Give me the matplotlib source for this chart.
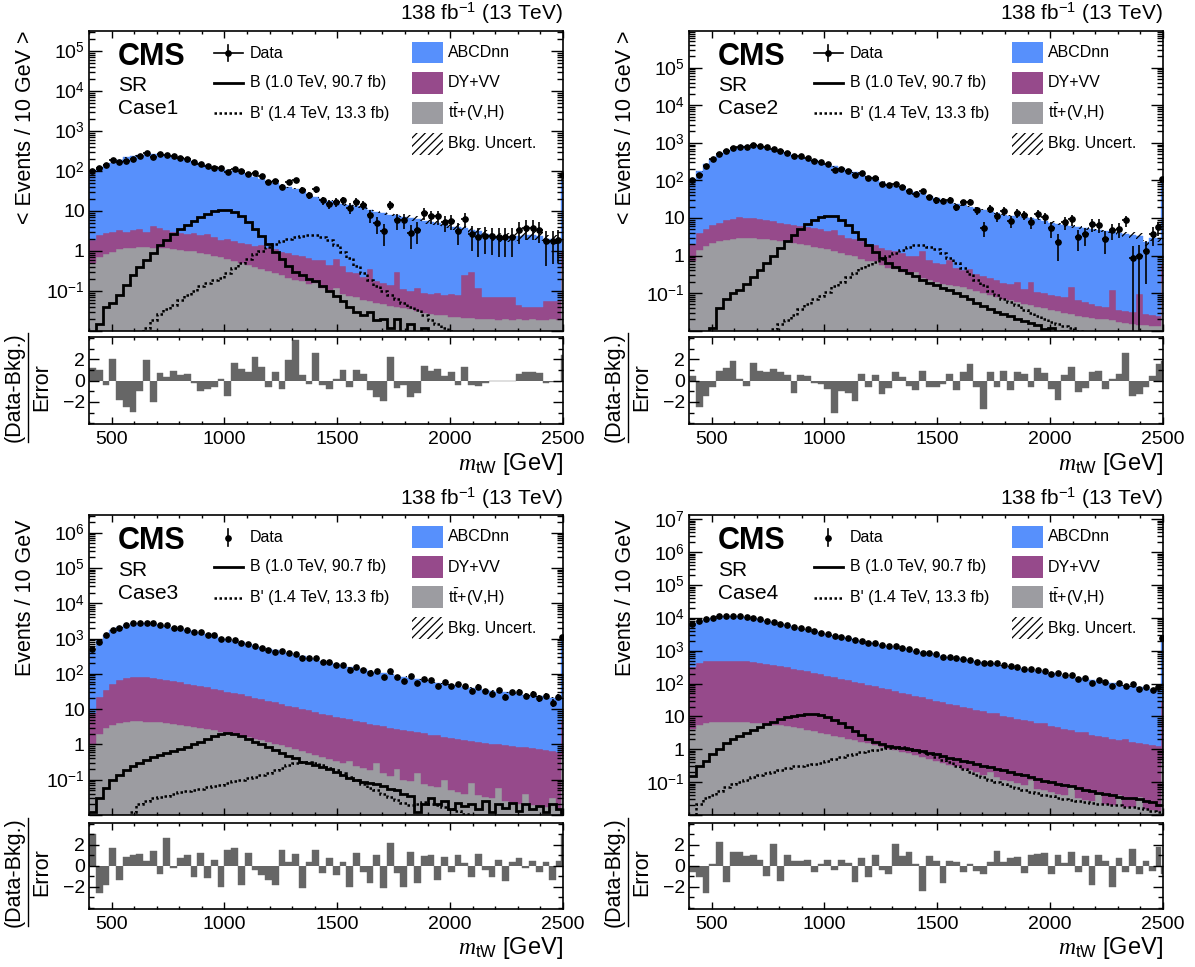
import numpy as np
import matplotlib
matplotlib.use('Agg')
import matplotlib.pyplot as plt
from matplotlib.ticker import MultipleLocator, LogLocator, FuncFormatter, NullFormatter, FixedLocator
from matplotlib.patches import Rectangle
from matplotlib.lines import Line2D

plt.rcParams['font.family'] = ['Liberation Sans', 'DejaVu Sans']
plt.rcParams['mathtext.fontset'] = 'custom'
plt.rcParams['mathtext.rm'] = 'Liberation Sans'
plt.rcParams['mathtext.it'] = 'Liberation Serif:italic'
plt.rcParams['mathtext.bf'] = 'Liberation Sans:bold'
plt.rcParams['hatch.linewidth'] = 0.9

# ---------------- data ----------------
bin_edges = list(range(400, 2471, 30)) + [2490, 2500]

case1_abcdnn = [83, 107, 137, 157, 187, 212, 232, 241, 247, 251,
                246, 237, 217, 197, 182, 167, 153, 137, 123, 113,
                103, 95, 86, 76.5, 69, 61.5, 54, 48, 43, 38,
                34.2, 30.2, 25.3, 21.4, 19.4, 17.5, 15.1, 14.1, 13.7, 12.7,
                11.8, 10.25, 9.3, 8.45, 7.85, 7.4, 6.9, 6.5, 6.2, 5.5,
                5.1, 4.7, 4.3, 3.9, 3.9, 3.35, 3.0, 2.9, 2.6, 2.2,
                2.1, 2.1, 2.1, 2.35, 2.45, 2.45, 2.25, 1.95, 1.95, 1.95, 59]
case1_dyvv = [1.3, 1.8, 1.95, 2.05, 2.2, 1.75, 2.0, 2.25, 1.75, 3.0,
              2.4, 2.05, 1.8, 1.75, 1.6, 1.73, 1.5, 1.75, 1.45, 1.2,
              1.38, 1.14, 1.1, 1.06, 0.9, 1.05, 0.84, 0.83, 0.71, 0.69,
              0.61, 0.58, 0.5, 0.42, 0.48, 0.345, 0.5, 0.335, 0.225, 0.212,
              0.16, 0.3, 0.12, 0.114, 0.098, 0.25, 0.074, 0.066, 0.089, 0.062,
              0.059, 0.065, 0.056, 0.063, 0.058, 0.23, 0.28, 0.1, 0.05, 0.05,
              0.051, 0.05, 0.052, 0.025, 0.021, 0.02, 0.022, 0.036, 0.035, 0.036, 0.6]
case1_ttvh = [0.5, 0.7, 0.85, 0.95, 1.1, 1.15, 1.2, 1.25, 1.25, 1.2,
              1.2, 1.15, 1.1, 1.05, 1.0, 0.97, 0.9, 0.85, 0.75, 0.7,
              0.62, 0.56, 0.5, 0.44, 0.4, 0.35, 0.31, 0.27, 0.24, 0.21,
              0.19, 0.17, 0.15, 0.16, 0.12, 0.105, 0.12, 0.085, 0.075, 0.068,
              0.06, 0.055, 0.05, 0.046, 0.042, 0.04, 0.036, 0.034, 0.031, 0.028,
              0.026, 0.025, 0.024, 0.022, 0.022, 0.021, 0.021, 0.02, 0.02, 0.02,
              0.019, 0.02, 0.018, 0.02, 0.019, 0.02, 0.018, 0.019, 0.02, 0.019, 0.4]
case1_sig_b = [0.004, 0.015, 0.04, 0.05, 0.08, 0.14, 0.25, 0.4, 0.6, 0.9,
               1.4, 1.9, 2.6, 3.4, 4.3, 5.5, 7.0, 8.5, 9.8, 10.6,
               10.5, 9.3, 7.5, 5.3, 3.5, 2.3, 1.45, 0.95, 0.62, 0.42,
               0.3, 0.24, 0.2, 0.17, 0.13, 0.1, 0.075, 0.055, 0.04, 0.03,
               0.025, 0.03, 0.018, 0.02, 0.012, 0.02, 0.008, 0.015, 0.006, 0.012,
               0.005, 0.005, 0.005, 0.005, 0.005, 0.005, 0.005, 0.005, 0.005, 0.005,
               0.005, 0.005, 0.005, 0.005, 0.005, 0.005, 0.005, 0.005, 0.005, 0.005, 0.005]
case1_sig_bp = [0.005, 0.005, 0.005, 0.005, 0.005, 0.005, 0.005, 0.008, 0.012, 0.018,
                0.026, 0.034, 0.045, 0.06, 0.08, 0.1, 0.13, 0.16, 0.18, 0.21,
                0.28, 0.37, 0.48, 0.62, 0.82, 1.0, 1.25, 1.5, 1.75, 1.95,
                2.15, 2.3, 2.4, 2.4, 2.2, 1.85, 1.35, 0.95, 0.65, 0.42,
                0.28, 0.19, 0.13, 0.1, 0.08, 0.062, 0.05, 0.04, 0.032, 0.025,
                0.019, 0.015, 0.012, 0.01, 0.008, 0.005, 0.005, 0.005, 0.005, 0.005,
                0.005, 0.005, 0.005, 0.005, 0.005, 0.005, 0.005, 0.005, 0.005, 0.005, 0.005]
case1_pull = [1.2, 1.0, -0.4, 2.0, -1.8, -2.5, -2.9, -1.0, 1.9, -2.0,
              0.7, 0.3, 0.9, 0.5, 0.6, -0.2, -1.0, -0.8, -0.6, 0.2,
              -1.4, 1.7, 1.1, 0.8, 2.2, 1.3, -0.6, 0.8, -0.8, 1.9,
              3.8, 0.5, -0.3, 2.6, -0.4, -0.8, 0.2, 1.0, -0.6, 1.0,
              0.6, -0.9, -1.5, -1.9, 2.2, -0.7, -0.4, -1.5, -1.2, 1.4,
              0.9, 1.1, 0.4, 0.8, -0.4, 1.3, -0.4, -0.5, -0.2, 0.0,
              0.0, 0.0, 0.0, 0.6, 0.8, 0.8, 0.7, -0.2, -0.15, -0.1, 2.4]
case1_unc_edges = [400, 1500, 1800, 2100, 2500]
case1_unc_frac = [0.03, 0.08, 0.15, 0.25]

case2_abcdnn = [98, 171, 265, 373, 472, 581, 680, 750, 790, 800,
                781, 721, 652, 583, 523, 463, 419, 374, 335, 300,
                275, 235, 211, 187, 162, 143, 123, 106, 91.4, 80.6,
                71.7, 62.9, 56, 49.1, 43.7, 38.3, 32.4, 29.4, 26.3, 23.5,
                21.6, 19.5, 18.2, 16.2, 14.2, 13.0, 12.0, 11.3, 10.8, 10.2,
                9.7, 9.0, 8.2, 7.4, 6.9, 6.3, 5.9, 5.6, 5.2, 4.9,
                4.65, 4.35, 4.15, 3.95, 3.65, 3.45, 3.25, 2.2, 2.95, 2.85, 94]
case2_dyvv = [1.3, 2.6, 3.2, 4.4, 5.1, 6.4, 6.7, 7.6, 6.9, 7.1,
              6.5, 6.1, 5.6, 4.85, 4.7, 4.45, 4.0, 3.75, 3.7, 3.45,
              3.15, 3.6, 2.4, 1.95, 1.75, 1.58, 1.28, 1.18, 1.05, 0.92,
              0.87, 0.78, 0.67, 0.6, 1.04, 0.52, 0.45, 0.42, 0.6, 0.315,
              0.275, 0.32, 0.215, 0.18, 0.17, 0.14, 0.12, 0.106, 0.142, 0.078,
              0.15, 0.066, 0.06, 0.054, 0.052, 0.048, 0.12, 0.04, 0.035, 0.03,
              0.025, 0.024, 0.1, 0.019, 0.018, 0.016, 0.08, 0.013, 0.013, 0.012, 0.4]
case2_ttvh = [0.7, 1.4, 1.8, 2.1, 2.4, 2.6, 2.8, 2.9, 2.9, 2.9,
              2.8, 2.7, 2.6, 2.45, 2.3, 2.15, 2.0, 1.85, 1.7, 1.55,
              1.45, 1.3, 1.2, 1.05, 0.95, 0.82, 0.72, 0.7, 0.55, 0.48,
              0.43, 0.37, 0.33, 0.36, 0.26, 0.23, 0.2, 0.18, 0.165, 0.155,
              0.145, 0.13, 0.115, 0.1, 0.09, 0.08, 0.07, 0.064, 0.058, 0.052,
              0.048, 0.044, 0.04, 0.036, 0.033, 0.03, 0.027, 0.025, 0.023, 0.022,
              0.021, 0.02, 0.019, 0.017, 0.016, 0.015, 0.014, 0.014, 0.013, 0.013, 0.2]
case2_sig_b = [0.005, 0.005, 0.005, 0.012, 0.04, 0.07, 0.1, 0.12, 0.18, 0.27,
               0.4, 0.65, 1.0, 1.6, 2.4, 3.6, 5.0, 6.8, 8.7, 10.3,
               11.3, 11.2, 9.0, 6.3, 4.3, 2.8, 1.9, 1.25, 0.88, 0.65,
               0.5, 0.41, 0.35, 0.28, 0.22, 0.19, 0.16, 0.14, 0.12, 0.1,
               0.085, 0.068, 0.055, 0.045, 0.038, 0.032, 0.028, 0.024, 0.02, 0.018,
               0.016, 0.014, 0.011, 0.012, 0.008, 0.01, 0.005, 0.005, 0.005, 0.005,
               0.005, 0.005, 0.005, 0.005, 0.005, 0.005, 0.005, 0.005, 0.005, 0.005, 0.005]
case2_sig_bp = [0.005, 0.005, 0.005, 0.005, 0.005, 0.005, 0.005, 0.005, 0.005, 0.005,
                0.006, 0.008, 0.011, 0.015, 0.019, 0.026, 0.037, 0.05, 0.068, 0.085,
                0.11, 0.15, 0.2, 0.27, 0.35, 0.46, 0.55, 0.68, 0.8, 0.98,
                1.15, 1.4, 1.7, 1.88, 1.85, 1.7, 1.45, 1.15, 0.88, 0.62,
                0.46, 0.32, 0.22, 0.16, 0.115, 0.09, 0.07, 0.058, 0.047, 0.036,
                0.03, 0.025, 0.021, 0.017, 0.015, 0.013, 0.012, 0.01, 0.008, 0.007,
                0.005, 0.005, 0.005, 0.005, 0.005, 0.005, 0.005, 0.005, 0.005, 0.005, 0.005]
case2_pull = [0.4, -2.5, -1.4, -0.6, 0.9, 1.2, 1.8, 0.2, -0.5, 1.7,
              0.9, 0.8, 1.1, 0.8, 0.5, -1.2, 0.5, 0.4, -0.2, -0.3,
              -0.8, -3.0, -1.0, -1.2, -1.9, 0.6, -0.6, 0.5, -1.3, -0.7,
              0.8, 0.3, -0.5, -0.9, 0.9, -0.6, -0.6, -0.3, 0.6, -0.9,
              0.8, 1.6, -0.6, -2.7, 0.8, -0.6, 0.9, -0.9, 0.8, 0.6,
              -0.6, 1.2, 0.7, -0.8, -1.8, 0.5, 1.3, -1.1, -0.7, 0.8,
              0.9, -0.8, 0.2, 0.6, 2.6, -1.4, -1.3, -0.6, 0.4, 1.6, 1.8]
case2_unc_edges = [400, 2000, 2300, 2500]
case2_unc_frac = [0.03, 0.08, 0.18]

case3_abcdnn = [442, 858, 1265, 1648, 2034, 2374, 2620, 2668, 2670, 2573,
                2377, 2182, 1988, 1843, 1698, 1552, 1406, 1289, 1162, 1016,
                919, 832, 754, 666, 609, 551, 493, 444, 406, 367,
                334, 300, 271, 247, 222, 198, 182, 164, 150, 140,
                131, 118, 108, 102, 93, 85, 79, 73.6, 67.8, 63,
                58.1, 54.2, 50.3, 47.4, 44.5, 41.6, 38.7, 35.8, 33.9, 31.9,
                30, 29, 27.1, 26.1, 24.2, 23.2, 22.3, 21.3, 20.3, 19.4, 995]
case3_dyvv = [7, 20, 32, 48, 62, 72, 75.5, 77.5, 75.5, 72.7,
              68.8, 64, 58.2, 53.4, 48.6, 44.8, 41, 38.2, 35.4, 31.7,
              28.9, 26.1, 24.25, 21.9, 19.55, 17.7, 15.85, 14.45, 13.05, 11.7,
              10.5, 9.56, 8.64, 7.7, 7.06, 6.42, 5.77, 5.3, 4.75, 4.46,
              4.08, 3.71, 3.3, 3.15, 2.87, 2.6, 2.5, 2.31, 2.05, 1.975,
              1.83, 1.74, 1.55, 1.5, 1.4, 1.31, 1.2, 1.16, 1.09, 1.02,
              0.94, 0.925, 0.88, 0.84, 0.78, 0.76, 0.72, 0.68, 0.63, 0.61, 4.5]
case3_ttvh = [1.0, 2.0, 2.9, 3.6, 4.1, 4.4, 4.5, 4.5, 4.4, 4.3,
              4.2, 4.0, 3.8, 3.6, 3.4, 3.2, 3.0, 2.8, 2.6, 2.3,
              2.1, 1.9, 1.75, 1.6, 1.45, 1.3, 1.15, 1.05, 0.95, 0.82,
              0.72, 0.64, 0.56, 0.5, 0.44, 0.38, 0.33, 0.3, 0.35, 0.24,
              0.22, 0.19, 0.3, 0.15, 0.13, 0.2, 0.1, 0.09, 0.15, 0.075,
              0.068, 0.062, 0.1, 0.052, 0.046, 0.04, 0.08, 0.036, 0.032, 0.03,
              0.06, 0.025, 0.022, 0.021, 0.04, 0.019, 0.018, 0.017, 0.03, 0.016, 0.5]
case3_sig_b = [0.012, 0.03, 0.06, 0.1, 0.14, 0.19, 0.25, 0.3, 0.37, 0.43,
               0.5, 0.57, 0.65, 0.73, 0.85, 1.0, 1.2, 1.45, 1.7, 1.95,
               2.05, 1.95, 1.75, 1.45, 1.2, 1.0, 0.85, 0.7, 0.56, 0.46,
               0.4, 0.32, 0.29, 0.26, 0.23, 0.2, 0.17, 0.14, 0.115, 0.1,
               0.085, 0.08, 0.075, 0.065, 0.055, 0.05, 0.04, 0.034, 0.012, 0.02,
               0.03, 0.02, 0.025, 0.015, 0.022, 0.018, 0.02, 0.015, 0.025, 0.012,
               0.02, 0.016, 0.022, 0.013, 0.02, 0.015, 0.018, 0.012, 0.02, 0.015, 0.01]
case3_sig_bp = [0.005, 0.005, 0.005, 0.005, 0.005, 0.009, 0.012, 0.02, 0.025, 0.03,
                0.032, 0.035, 0.04, 0.045, 0.048, 0.052, 0.056, 0.062, 0.068, 0.072,
                0.08, 0.09, 0.1, 0.11, 0.12, 0.14, 0.16, 0.19, 0.22, 0.26,
                0.29, 0.31, 0.32, 0.3, 0.26, 0.22, 0.19, 0.15, 0.12, 0.095,
                0.075, 0.06, 0.05, 0.04, 0.033, 0.026, 0.022, 0.019, 0.02, 0.023,
                0.02, 0.019, 0.017, 0.015, 0.013, 0.011, 0.008, 0.006, 0.005, 0.005,
                0.005, 0.005, 0.005, 0.005, 0.005, 0.005, 0.005, 0.005, 0.005, 0.005, 0.005]
case3_pull = [3.0, -2.6, -1.8, 1.7, -1.3, 0.8, 1.0, 1.1, 0.5, 1.4,
              -0.8, 2.6, -0.2, 0.7, 1.0, -1.1, 1.2, -1.2, 0.6, -2.0,
              1.5, 1.7, -1.8, 1.2, -0.4, -0.9, -1.3, -1.8, 1.5, 0.4,
              1.1, -2.1, 0.4, 1.5, -0.7, 0.7, -0.9, 0.4, -2.0, 1.2,
              -0.6, -1.6, 1.0, -2.1, 2.2, -0.7, -2.0, 1.3, -1.6, 0.9,
              1.0, -1.3, 0.8, -0.6, 1.0, 0.3, -1.1, 1.1, -0.4, -1.1,
              0.6, -1.4, 0.4, 0.7, -0.2, 0.5, -0.6, 0.4, -1.3, 0.5, 3.0]
case3_unc_edges = [400, 2500]
case3_unc_frac = [0.03]

case4_abcdnn = [6170, 7580, 8730, 9710, 10500, 11000, 11000, 10710, 10225, 9345,
                8570, 7800, 7030, 6360, 5690, 5115, 4640, 4165, 3738, 3358,
                3026, 2743, 2509, 2273, 2085, 1897, 1728, 1568, 1426, 1314,
                1221, 1127, 1033, 947, 872, 796, 730, 673, 626, 578,
                535, 497, 459, 430, 402, 373, 344, 320, 296, 272,
                253, 234, 216, 200, 185, 171, 156, 145, 134, 124,
                115.5, 107.7, 99.9, 92, 85.2, 80.3, 75.4, 70.5, 66.6, 62.7, 2470]
case4_dyvv = [326, 414, 464, 483, 493, 493, 493, 483, 468, 448,
              424, 394, 364, 335, 305, 280, 256, 231, 208, 189,
              171, 154, 139, 125, 113, 101, 90.5, 80.6, 72.8, 65,
              58, 52.2, 46.3, 42.4, 37.4, 33.5, 29.6, 26.6, 23.7, 21.7,
              19.7, 17.8, 15.8, 14.3, 12.8, 12.5, 10.4, 9.4, 8.5, 7.7,
              6.9, 6.24, 6.2, 5.15, 4.66, 4.16, 3.76, 3.37, 3.4, 2.77,
              2.48, 2.28, 2.08, 1.93, 2.0, 1.63, 1.53, 1.43, 1.34, 1.29, 29.5]
case4_ttvh = [4.2, 5.5, 6.3, 6.7, 7.0, 7.0, 7.0, 6.9, 6.7, 6.5,
              6.2, 5.9, 5.6, 5.3, 5.0, 4.7, 4.3, 4.0, 3.6, 3.2,
              2.9, 2.6, 2.35, 2.1, 1.9, 1.7, 1.5, 1.35, 1.2, 1.05,
              0.95, 0.85, 0.75, 0.65, 0.57, 0.5, 0.44, 0.39, 0.34, 0.3,
              0.26, 0.23, 0.2, 0.17, 0.2, 0.14, 0.12, 0.11, 0.095, 0.08,
              0.12, 0.064, 0.056, 0.05, 0.045, 0.04, 0.07, 0.032, 0.028, 0.026,
              0.05, 0.022, 0.02, 0.04, 0.018, 0.017, 0.035, 0.015, 0.014, 0.013, 0.5]
case4_sig_b = [0.15, 0.3, 0.45, 0.7, 1.0, 1.5, 2.0, 2.6, 3.2, 4.0,
               4.9, 5.9, 7.0, 8.2, 9.3, 10.3, 11.0, 11.5, 11.6, 11.0,
               9.6, 8.0, 6.3, 4.7, 3.5, 2.7, 2.1, 1.7, 1.45, 1.28,
               1.18, 1.08, 1.0, 0.93, 0.86, 0.78, 0.7, 0.62, 0.55, 0.49,
               0.44, 0.4, 0.36, 0.32, 0.28, 0.26, 0.23, 0.21, 0.18, 0.16,
               0.14, 0.125, 0.11, 0.1, 0.09, 0.08, 0.074, 0.065, 0.058, 0.052,
               0.048, 0.044, 0.04, 0.036, 0.034, 0.032, 0.03, 0.027, 0.025, 0.02, 0.02]
case4_sig_bp = [0.008, 0.022, 0.032, 0.042, 0.055, 0.07, 0.085, 0.1, 0.12, 0.14,
                0.16, 0.185, 0.21, 0.24, 0.27, 0.3, 0.32, 0.34, 0.36, 0.38,
                0.44, 0.52, 0.58, 0.65, 0.73, 0.8, 0.88, 0.96, 1.02, 1.08,
                1.12, 1.17, 1.12, 0.98, 0.85, 0.72, 0.6, 0.48, 0.4, 0.32,
                0.26, 0.21, 0.17, 0.14, 0.12, 0.1, 0.088, 0.078, 0.066, 0.057,
                0.05, 0.046, 0.042, 0.038, 0.034, 0.03, 0.028, 0.026, 0.025, 0.024,
                0.022, 0.021, 0.02, 0.02, 0.018, 0.017, 0.016, 0.015, 0.013, 0.012, 0.011]
case4_pull = [-0.6, -1.1, -2.6, 0.2, 2.3, -1.5, 1.3, 1.3, 0.9, 1.0,
              0.6, -1.0, 2.1, -1.4, 1.0, 0.5, 0.5, 0.6, -0.6, 0.2,
              0.6, -0.4, 0.6, 0.3, -1.5, 0.7, -1.1, 1.0, -0.4, -0.8,
              2.1, 0.9, 1.3, 0.2, -2.4, 0.9, 0.5, -1.6, 0.5, 0.4,
              -0.6, 0.2, -0.5, -0.8, 0.4, 1.4, 0.4, 0.7, 0.8, -0.7,
              1.0, 1.1, 1.2, -0.8, 1.0, 0.3, 1.3, -0.6, 0.9, -1.8,
              1.0, 0.5, -2.0, 0.7, -0.6, 1.6, -0.8, 0.5, -0.5, 1.8, -0.8]
case4_unc_edges = [400, 2500]
case4_unc_frac = [0.02]

case_names = ['Case1', 'Case2', 'Case3', 'Case4']
y_maxima = [3.16e5, 9.6e5, 3.16e6, 1.35e7]
y_titles = ['< Events / 10 GeV >', '< Events / 10 GeV >', 'Events / 10 GeV', 'Events / 10 GeV']
legend_labels = ['Data', 'B (1.0 TeV, 90.7 fb)', "B' (1.4 TeV, 13.3 fb)",
                 'ABCDnn', 'DY+VV', r'$\mathrm{t\bar{t}}$+(V,H)', 'Bkg. Uncert.']
title_text = r'138 fb$^{\mathrm{-1}}$ (13 TeV)'
x_title = r'$m_{\mathrm{tW}}$ [GeV]'

# ---------------- style ----------------
BLUE = '#5790fc'
PURPLE = '#964a8b'
GRAY = '#9c9ca1'
PULLC = '#666666'
W, H = 1195.0, 967.0
COL_LEFT = [89.0, 689.0]
AX_W = 474.0
ROW_GEOM = [((330.7, 300.0), (424.3, 87.3)), ((815.0, 300.0), (909.0, 86.3))]

fig = plt.figure(figsize=(W / 100, H / 100), dpi=100)


def log_label(v, pos):
    if v < 0.05:
        return ''
    e = int(round(np.log10(v)))
    if e == 0:
        return '1'
    if e == 1:
        return '10'
    return r'$10^{%d}$' % e


def panel(idx, abcdnn, dyvv, ttvh, sig_b, sig_bp, pull, unc_edges, unc_frac):
    col = idx % 2
    row = idx // 2
    (mb, mh), (rb, rh) = ROW_GEOM[row]
    left = COL_LEFT[col] / W
    ax = fig.add_axes([left, 1 - mb / H, AX_W / W, mh / H])
    rx = fig.add_axes([left, 1 - rb / H, AX_W / W, rh / H])

    edges = np.asarray(bin_edges, dtype=float)
    centers = 0.5 * (edges[:-1] + edges[1:])
    halfw = 0.5 * np.diff(edges)
    tt = np.asarray(ttvh, dtype=float)
    dy = np.asarray(dyvv, dtype=float)
    ab = np.asarray(abcdnn, dtype=float)
    s1 = tt
    s2 = tt + dy
    s3 = s2 + ab

    ax.set_yscale('log')
    ax.stairs(s1, edges, baseline=1e-5, fill=True, facecolor=GRAY, edgecolor=GRAY, linewidth=0.3)
    ax.stairs(s2, edges, baseline=s1, fill=True, facecolor=PURPLE, edgecolor=PURPLE, linewidth=0.3)
    ax.stairs(s3, edges, baseline=s2, fill=True, facecolor=BLUE, edgecolor=BLUE, linewidth=0.3)

    uf = np.asarray(unc_frac)[np.searchsorted(unc_edges, centers, side='right') - 1]
    ax.stairs(s3 * (1 + uf), edges, baseline=s3 * (1 - uf), fill=True,
              facecolor='none', edgecolor='k', hatch='////', linewidth=0)

    ax.stairs(np.asarray(sig_b), edges, baseline=None, color='k', linewidth=2.0)
    ax.stairs(np.asarray(sig_bp), edges, baseline=None, color='k', linewidth=1.8,
              linestyle=(0, (1.0, 1.0)))

    p = np.asarray(pull, dtype=float)
    data = s3 + p * np.sqrt(s3)
    data = np.maximum(data, 0.15 * s3)
    err = np.sqrt(data)
    lo = np.minimum(err, data - 1e-4)
    hbar = idx < 2
    ax.errorbar(centers, data, yerr=[lo, err], xerr=(halfw if hbar else None),
                fmt='o', color='k', ms=3.8, elinewidth=1.2, capsize=0, zorder=5)

    ax.set_xlim(400, 2500)
    ax.set_ylim(0.01, y_maxima[idx])
    rx.set_xlim(400, 2500)
    rx.set_ylim(-4.1, 4.1)

    rx.stairs(p, edges, baseline=0, fill=True, facecolor=PULLC, edgecolor=PULLC, linewidth=0.3)

    for a in (ax, rx):
        a.tick_params(which='both', direction='in', top=True, right=True, width=1.0)
        a.xaxis.set_major_locator(MultipleLocator(500))
        a.xaxis.set_minor_locator(MultipleLocator(100))
        for s in a.spines.values():
            s.set_linewidth(1.2)
    ax.tick_params(axis='x', which='major', length=5)
    ax.tick_params(axis='x', which='minor', length=2.5)
    ax.tick_params(axis='y', which='major', length=9, labelsize=14, pad=3)
    ax.tick_params(axis='y', which='minor', length=4.5)
    ax.tick_params(labelbottom=False)
    ax.yaxis.set_major_locator(LogLocator(base=10, numticks=30))
    ax.yaxis.set_minor_locator(LogLocator(base=10, subs=np.arange(2, 10), numticks=30))
    ax.yaxis.set_major_formatter(FuncFormatter(log_label))
    ax.yaxis.set_minor_formatter(NullFormatter())

    rx.tick_params(axis='x', which='major', length=5, labelsize=14, pad=5)
    rx.tick_params(axis='x', which='minor', length=2.5)
    rx.tick_params(axis='y', which='major', length=7, labelsize=14, pad=3)
    rx.tick_params(axis='y', which='minor', length=3.5)
    rx.yaxis.set_major_locator(FixedLocator([-2, 0, 2]))
    rx.yaxis.set_minor_locator(MultipleLocator(1))
    rx.set_yticklabels(['\u22122', '0', '2'])

    # texts
    ax.text(1.0, 1.014, title_text, transform=ax.transAxes, ha='right', va='bottom', fontsize=15)
    ytop = 1.0 if row == 0 else 0.985
    ax.text(-0.133, ytop, y_titles[idx], transform=ax.transAxes, rotation=90,
            ha='center', va='top', fontsize=15.5)
    ax.text(0.061, 0.913, 'CMS', transform=ax.transAxes, ha='left', va='center',
            fontsize=22, fontweight='bold')
    ax.text(0.062, 0.816, 'SR', transform=ax.transAxes, ha='left', va='center', fontsize=15)
    ax.text(0.062, 0.739, case_names[idx], transform=ax.transAxes, ha='left', va='center', fontsize=15)

    # legend (left column)
    xm = 0.294
    yd, yb, ybp = 0.925, 0.827, 0.725
    ax.plot([xm], [yd], 'o', color='k', ms=3.8, transform=ax.transAxes)
    ax.plot([xm, xm], [yd - 0.027, yd + 0.027], color='k', lw=1.2, transform=ax.transAxes)
    if hbar:
        ax.plot([0.263, 0.325], [yd, yd], color='k', lw=1.2, transform=ax.transAxes)
    ax.plot([0.263, 0.325], [yb, yb], color='k', lw=2.0, transform=ax.transAxes)
    ax.plot([0.263, 0.325], [ybp, ybp], color='k', lw=1.8, linestyle=(0, (1.0, 1.0)),
            transform=ax.transAxes)
    for yy, lab in zip([yd, yb, ybp], legend_labels[:3]):
        ax.text(0.339, yy, lab, transform=ax.transAxes, ha='left', va='center', fontsize=11.5)
    # legend (right column)
    rows_y = [0.927, 0.826, 0.726, 0.623]
    fills = [BLUE, PURPLE, GRAY, 'white']
    for k, (yy, fc, lab) in enumerate(zip(rows_y, fills, legend_labels[3:])):
        if k < 3:
            r = Rectangle((0.681, yy - 0.036), 0.065, 0.072, transform=ax.transAxes,
                          facecolor=fc, edgecolor='none', linewidth=0)
        else:
            r = Rectangle((0.681, yy - 0.036), 0.065, 0.072, transform=ax.transAxes,
                          facecolor='white', edgecolor='k', hatch='////', linewidth=0)
        ax.add_patch(r)
        ax.text(0.757, yy, lab, transform=ax.transAxes, ha='left', va='center', fontsize=11.5)

    # ratio label as fraction
    rx.text(-0.157, 0.43, '(Data-Bkg.)', transform=rx.transAxes, rotation=90,
            ha='center', va='center', fontsize=15.5)
    rx.text(-0.099, 0.43, 'Error', transform=rx.transAxes, rotation=90,
            ha='center', va='center', fontsize=15.5)
    rx.add_line(Line2D([-0.128, -0.128], [-0.2, 1.05], transform=rx.transAxes,
                       color='k', lw=1.0, clip_on=False))
    rx.text(1.0, -0.45, x_title, transform=rx.transAxes, ha='right', va='center', fontsize=17)


panel(0, case1_abcdnn, case1_dyvv, case1_ttvh, case1_sig_b, case1_sig_bp, case1_pull,
      case1_unc_edges, case1_unc_frac)
panel(1, case2_abcdnn, case2_dyvv, case2_ttvh, case2_sig_b, case2_sig_bp, case2_pull,
      case2_unc_edges, case2_unc_frac)
panel(2, case3_abcdnn, case3_dyvv, case3_ttvh, case3_sig_b, case3_sig_bp, case3_pull,
      case3_unc_edges, case3_unc_frac)
panel(3, case4_abcdnn, case4_dyvv, case4_ttvh, case4_sig_b, case4_sig_bp, case4_pull,
      case4_unc_edges, case4_unc_frac)

fig.savefig('out.png', dpi=100)
